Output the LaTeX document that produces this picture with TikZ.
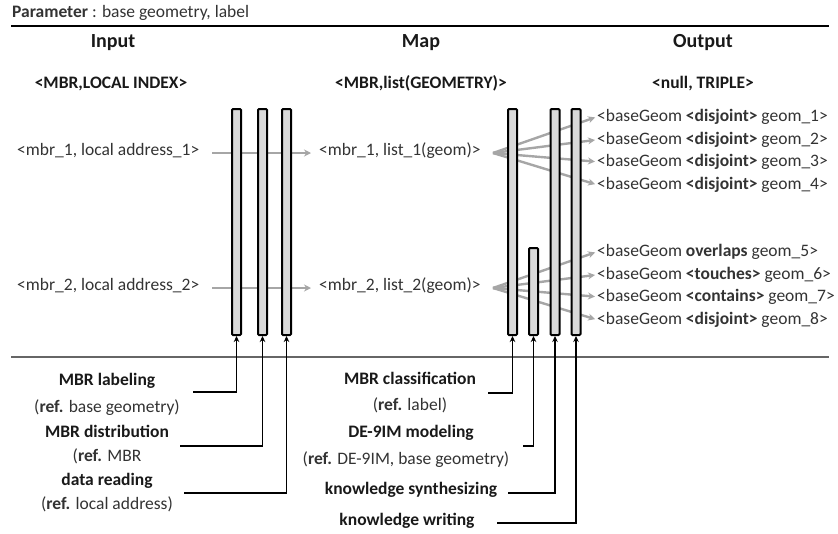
\documentclass[tikz,border=0pt]{standalone}
\usepackage{fontspec}
\setmainfont{Carlito}
\usetikzlibrary{arrows.meta}
\begin{document}
\begin{tikzpicture}[x=1pt,y=-1pt,
  txt/.style={inner sep=0pt, font=\fontsize{17.5}{20}\selectfont, text=black!80},
  head/.style={inner sep=0pt, font=\fontsize{20}{24}\selectfont\bfseries, text=black!90},
  sub/.style={txt, font=\fontsize{17.5}{20}\selectfont\bfseries, text=black!90},
  bar/.style={draw=black, line width=2pt, fill=black!15, rounded corners=1pt,
              minimum width=9pt, inner sep=0pt, anchor=south},
  garrow/.style={draw=black!35, line width=2.4pt,
                 -{Stealth[length=7pt,width=7pt]}},
  conn/.style={draw=black, line width=1.5pt,
               -{Stealth[length=6pt,width=5.5pt]}},
  rule/.style={line width=1.2pt}
]
\useasboundingbox (0,0) rectangle (838,533);

% title line and separators
\node[txt, anchor=mid west] (param) at (12,15) {\textbf{Parameter} : base geometry, label};
\coordinate (r1a) at (11,26);
\coordinate (r1b) at (829,26);
\draw[rule, black] (r1a) -- (r1b);
\coordinate (r2a) at (11,357);
\coordinate (r2b) at (829,357);
\draw[rule, black!60] (r2a) -- (r2b);

% column headers
\node[head, anchor=mid] (hin)  at (113,45) {Input};
\node[head, anchor=mid] (hmap) at (421,45) {Map};
\node[head, anchor=mid] (hout) at (703,45) {Output};
\node[sub, anchor=mid] (kin)  at (111,86) {<MBR,LOCAL INDEX>};
\node[sub, anchor=mid] (kmap) at (421,86) {<MBR,list(GEOMETRY)>};
\node[sub, anchor=mid] (kout) at (703,86) {<null, TRIPLE>};

% records
\node[txt, anchor=mid west] (in1) at (17,153) {<mbr\_1, local address\_1>};
\node[txt, anchor=mid west] (in2) at (17,288) {<mbr\_2, local address\_2>};
\node[txt, anchor=mid west] (mp1) at (319,153) {<mbr\_1, list\_1(geom)>};
\node[txt, anchor=mid west] (mp2) at (319,288) {<mbr\_2, list\_2(geom)>};

\node[txt, anchor=mid west] (o1) at (597,119) {<baseGeom \textbf{<disjoint>} geom\_1>};
\node[txt, anchor=mid west] (o2) at (597,142) {<baseGeom \textbf{<disjoint>} geom\_2>};
\node[txt, anchor=mid west] (o3) at (597,164) {<baseGeom \textbf{<disjoint>} geom\_3>};
\node[txt, anchor=mid west] (o4) at (597,187) {<baseGeom \textbf{<disjoint>} geom\_4>};
\node[txt, anchor=mid west] (o5) at (597,254) {<baseGeom \textbf{overlaps} geom\_5>};
\node[txt, anchor=mid west] (o6) at (597,277) {<baseGeom \textbf{<touches>} geom\_6>};
\node[txt, anchor=mid west] (o7) at (597,299) {<baseGeom \textbf{<contains>} geom\_7>};
\node[txt, anchor=mid west] (o8) at (597,322) {<baseGeom \textbf{<disjoint>} geom\_8>};

% input -> map
\draw[garrow, shorten <=13pt, shorten >=8pt] (in1.mid east) -- (mp1.mid west);
\draw[garrow, shorten <=13pt, shorten >=8pt] (in2.mid east) -- (mp2.mid west);

% map -> output fans
\coordinate (f1) at (493,153);
\coordinate (f2) at (493,288);
\foreach \o in {o1,o2,o3,o4}
  \draw[garrow, shorten >=2pt] (f1) -- (\o.west);
\foreach \o in {o5,o6,o7,o8}
  \draw[garrow, shorten >=2pt] (f2) -- (\o.west);

% processing bars
\node[bar, minimum height=226pt] (b1) at (236.5,336) {};
\node[bar, minimum height=226pt] (b2) at (262.5,336) {};
\node[bar, minimum height=226pt] (b3) at (286.5,336) {};
\node[bar, minimum height=226pt] (c1) at (512.5,336) {};
\node[bar, minimum height=87pt]  (c2) at (533.5,336) {};
\node[bar, minimum height=226pt] (c3) at (555,336) {};
\node[bar, minimum height=226pt] (c4) at (576,336) {};

% map-side steps
\node[sub, anchor=mid] (s1)  at (107,383) {MBR labeling};
\node[txt, anchor=mid] (s1r) at (107,410) {(\textbf{ref.} base geometry)};
\node[sub, anchor=mid] (s2)  at (107,435) {MBR distribution};
\node[txt, anchor=mid] (s2r) at (107,459) {(\textbf{ref.} MBR};
\node[sub, anchor=mid] (s3)  at (107,483) {data reading};
\node[txt, anchor=mid] (s3r) at (107,507) {(\textbf{ref.} local address)};

% reduce-side steps
\node[sub, anchor=mid] (t1)  at (410,382) {MBR classification};
\node[txt, anchor=mid] (t1r) at (410,408) {(\textbf{ref.} label)};
\node[sub, anchor=mid] (t2)  at (411,435) {DE-9IM modeling};
\node[txt, anchor=mid] (t2r) at (406,462) {(\textbf{ref.} DE-9IM, base geometry)};
\node[sub, anchor=mid] (t3)  at (411,492) {knowledge synthesizing};
\node[sub, anchor=mid] (t4)  at (407,523) {knowledge writing};

% step connectors
\coordinate (p1) at (193,392);
\coordinate (p2) at (180,446);
\coordinate (p3) at (184,493);
\coordinate (q1) at (488,393);
\coordinate (q2) at (523,446);
\coordinate (q3) at (508,493);
\coordinate (q4) at (497,523);
\draw[conn] (p1) -| (b1.south);
\draw[conn] (p2) -| (b2.south);
\draw[conn] (p3) -| (b3.south);
\draw[conn] (q1) -| (c1.south);
\draw[conn] (q2) -| (c2.south);
\draw[conn] (q3) -| (c3.south);
\draw[conn] (q4) -| (c4.south);
\end{tikzpicture}
\end{document}
